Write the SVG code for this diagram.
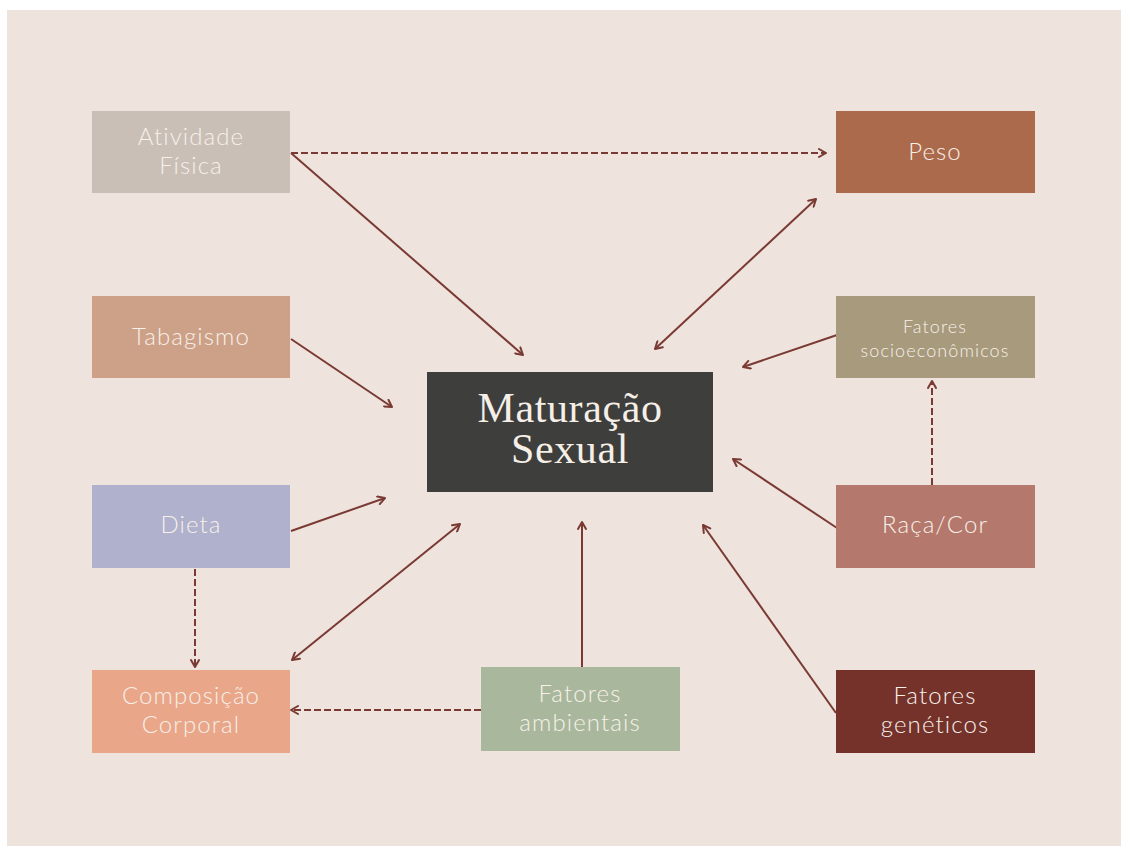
<svg xmlns="http://www.w3.org/2000/svg" width="1121" height="846" viewBox="0 0 1121 846">
<style>
.lbl{font-family:Lato,"Open Sans","Noto Sans",sans-serif;font-weight:300;fill:#F7F0EA;text-anchor:middle;font-size:24px;letter-spacing:1.1px}
.sm{font-size:18px;letter-spacing:1.1px}
.ttl{font-family:"Liberation Serif","DejaVu Serif",serif;fill:#F5EFE8;text-anchor:middle;font-size:42px;letter-spacing:0.6px}
.c{stroke:#7A3A33;stroke-width:2;fill:none;marker-end:url(#ah)}
.d{stroke-dasharray:7 3}
.b{marker-start:url(#ah)}
</style>
<defs>
<marker id="ah" markerUnits="userSpaceOnUse" viewBox="0 0 10 10" refX="9" refY="5" markerWidth="10" markerHeight="10" orient="auto-start-reverse">
<path d="M2,1 L9,5 L2,9" fill="none" stroke="#7A3A33" stroke-width="2" stroke-linecap="round" stroke-linejoin="round"/>
</marker>
</defs>
<rect width="1121" height="846" fill="#FFFFFF"/>
<rect x="7" y="10" width="1114" height="836" fill="#EEE3DD"/>
<g id="connectors">
<line class="c d" x1="291" y1="153" x2="826" y2="153"/>
<line class="c" x1="291" y1="153" x2="523" y2="355"/>
<line class="c b" x1="655" y1="349" x2="816" y2="199"/>
<line class="c" x1="291" y1="339" x2="392" y2="407"/>
<line class="c" x1="291" y1="531" x2="385" y2="498"/>
<line class="c" x1="837" y1="335" x2="743" y2="367"/>
<line class="c" x1="837" y1="528" x2="733" y2="459"/>
<line class="c" x1="836" y1="713" x2="703" y2="525"/>
<line class="c b" x1="292" y1="660" x2="460" y2="524"/>
<line class="c d" x1="481" y1="710" x2="291" y2="710"/>
<line class="c" x1="582" y1="667" x2="582" y2="522"/>
<line class="c d" x1="195" y1="569" x2="195" y2="667"/>
<line class="c d" x1="932" y1="485" x2="932" y2="381"/>
</g>
<g id="center"><rect x="427" y="372" width="286" height="120" fill="#3E3E3C"/><text class="ttl" x="570" y="422">Maturação</text><text class="ttl" x="570" y="463">Sexual</text></g>
<g id="atividade"><rect x="92" y="111" width="198" height="82" fill="#C9BFB6"/><text class="lbl" x="191" y="145">Atividade</text><text class="lbl" x="191" y="174">Física</text></g>
<g id="peso"><rect x="836" y="111" width="199" height="82" fill="#AC6A4D"/><text class="lbl" x="935" y="160">Peso</text></g>
<g id="tabagismo"><rect x="92" y="296" width="198" height="82" fill="#CDA088"/><text class="lbl" x="191" y="345">Tabagismo</text></g>
<g id="socio"><rect x="836" y="296" width="199" height="82" fill="#A89A7C"/><text class="lbl sm" x="935" y="333">Fatores</text><text class="lbl sm" x="935" y="357">socioeconômicos</text></g>
<g id="dieta"><rect x="92" y="485" width="198" height="83" fill="#B0B1CC"/><text class="lbl" x="191" y="533">Dieta</text></g>
<g id="raca"><rect x="836" y="485" width="199" height="83" fill="#B5786C"/><text class="lbl" x="935" y="533">Raça/Cor</text></g>
<g id="composicao"><rect x="92" y="670" width="198" height="83" fill="#E9A688"/><text class="lbl" x="191" y="704">Composição</text><text class="lbl" x="191" y="733">Corporal</text></g>
<g id="ambientais"><rect x="481" y="667" width="199" height="84" fill="#A9B89C"/><text class="lbl" x="580" y="702">Fatores</text><text class="lbl" x="580" y="731">ambientais</text></g>
<g id="geneticos"><rect x="836" y="670" width="199" height="83" fill="#74322A"/><text class="lbl" x="935" y="704">Fatores</text><text class="lbl" x="935" y="733">genéticos</text></g>
</svg>
